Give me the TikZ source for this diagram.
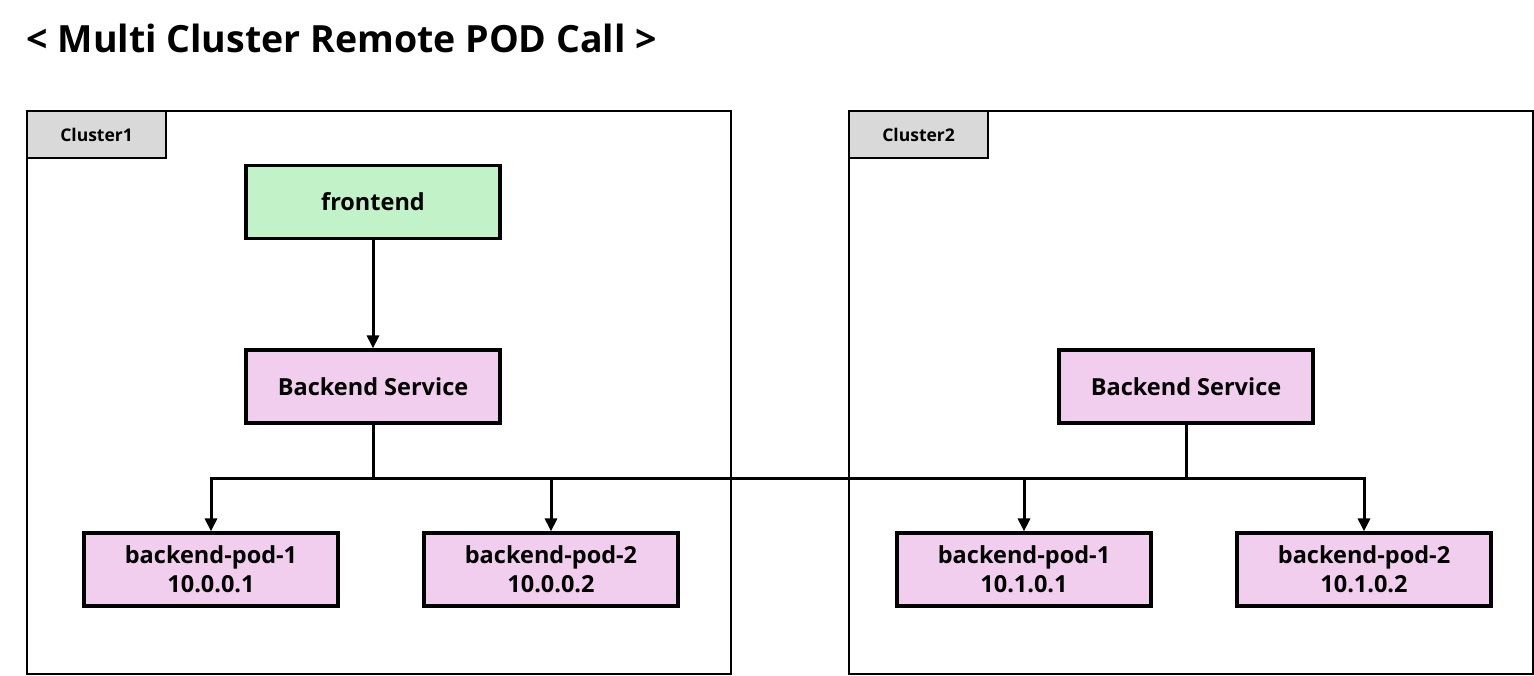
\documentclass[tikz,border=0pt]{standalone}
\usepackage{fontspec}
\setmainfont{Open Sans}
\usetikzlibrary{arrows.meta}
\definecolor{fegreen}{HTML}{C2F2C8}
\definecolor{bepink}{HTML}{F2CEEE}
\definecolor{tabgray}{HTML}{D9D9D9}
\tikzset{
  cluster/.style={draw=black, line width=2.2pt, anchor=north west, inner sep=0pt},
  tab/.style={draw=black, fill=tabgray, line width=2.2pt, anchor=north west, minimum width=139pt, minimum height=47pt, inner sep=0pt, font=\fontsize{17.5}{20}\selectfont\bfseries},
  box/.style={draw=black, line width=3.2pt, minimum width=254pt, minimum height=73pt, inner sep=0pt, align=center, font=\fontsize{23.5}{29}\selectfont\bfseries},
  fe/.style={box, fill=fegreen},
  be/.style={box, fill=bepink},
  wire/.style={line width=3pt},
  arr/.style={line width=3pt, -{Triangle[length=13pt,width=12pt]}}
}
\begin{document}
\begin{tikzpicture}[x=1pt,y=-1pt]
\useasboundingbox (0,0) rectangle (1534,675);
\node[anchor=west, font=\fontsize{37.5}{42}\selectfont\bfseries] (title) at (23,38) {< Multi Cluster Remote POD Call >};
% clusters
\node[cluster, minimum width=704pt, minimum height=563pt] (c1) at (26,110) {};
\node[cluster, minimum width=684pt, minimum height=563pt] (c2) at (848,110) {};
\node[tab] (t1) at (26,110) {Cluster1};
\node[tab] (t2) at (848,110) {Cluster2};
% nodes
\node[fe] (fe) at (373,202) {frontend};
\node[be] (bs1) at (373,386.5) {Backend Service};
\node[be] (bs2) at (1186,386.5) {Backend Service};
\node[be] (p11) at (211,569.5) {backend-pod-1\\10.0.0.1};
\node[be] (p12) at (551,569.5) {backend-pod-2\\10.0.0.2};
\node[be] (p21) at (1024,569.5) {backend-pod-1\\10.1.0.1};
\node[be] (p22) at (1364,569.5) {backend-pod-2\\10.1.0.2};
\coordinate (bus) at (0,478);
% connectors
\draw[arr] (fe.south) -- (bs1.north);
\draw[wire] (bs1.south) -- (bs1.south |- bus);
\draw[wire] (bs2.south) -- (bs2.south |- bus);
\draw[wire, line cap=rect] (p11.north |- bus) -- (p22.north |- bus);
\draw[arr] (p11.north |- bus) -- (p11.north);
\draw[arr] (p12.north |- bus) -- (p12.north);
\draw[arr] (p21.north |- bus) -- (p21.north);
\draw[arr] (p22.north |- bus) -- (p22.north);
\end{tikzpicture}
\end{document}
